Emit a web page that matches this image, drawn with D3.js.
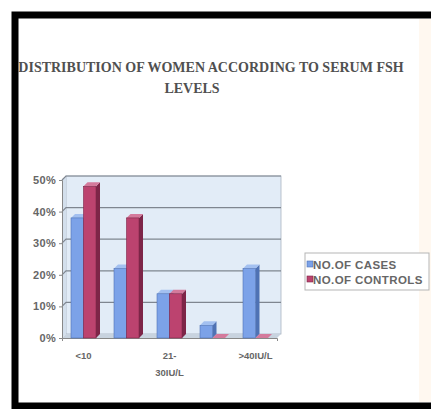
<!DOCTYPE html>
<html>
<head>
<meta charset="utf-8">
<script src="https://cdn.jsdelivr.net/npm/d3@7"></script>
<style>
  body { margin: 0; background: #fff; }
  svg { display: block; }
</style>
</head>
<body>
<svg id="chart" width="431" height="409"></svg>
<script>
// data
var categories = ["<10", "11-20IU/L", "21-30IU/L", "31-40IU/L", ">40IU/L"];
var tick_labels = [["<10"], [], ["21-", "30IU/L"], [], [">40IU/L"]];
var cases = [38, 22, 14, 4, 22];
var controls = [48, 38, 14, 0, 0];
var series_names = ["NO.OF CASES", "NO.OF CONTROLS"];
var y_ticks = [0, 10, 20, 30, 40, 50];

var colors = ["#7ca2e8", "#bc436f"];
var sides = ["#4f72b4", "#7d2548"];
var tops = ["#a3c0f0", "#d47a9c"];

var svg = d3.select("#chart");

// black frame
svg.append("rect")
    .attr("x", 15).attr("y", 15)
    .attr("width", 440).attr("height", 391)
    .attr("fill", "none")
    .attr("stroke", "#000")
    .attr("stroke-width", 7);

// faint tint on the right edge
svg.append("rect")
    .attr("x", 419).attr("y", 19).attr("width", 12).attr("height", 383)
    .attr("fill", "#fff8f0");

// title
var title = svg.append("text")
    .attr("text-anchor", "middle")
    .attr("font-family", "Liberation Serif, Times New Roman, serif")
    .attr("font-weight", "bold")
    .attr("font-size", 14)
    .attr("fill", "#505050");
title.append("tspan").attr("x", 211).attr("y", 72).text("DISTRIBUTION OF WOMEN ACCORDING TO SERUM FSH");
title.append("tspan").attr("x", 192).attr("y", 93).text("LEVELS");

var depth = 4;
var x = d3.scaleBand().domain(categories).range([62, 277]).paddingInner(0);
var y = d3.scaleLinear().domain([0, 50]).range([338, 180]);

var g = svg.append("g");

// back wall
g.append("rect")
    .attr("x", 62 + depth).attr("y", y(50) - depth)
    .attr("width", 215).attr("height", y(0) - y(50))
    .attr("fill", "#e2ecf7")
    .attr("stroke", "#aab4c0").attr("stroke-width", 0.8);

// side wall
g.append("path")
    .attr("d", "M62," + y(0) + "L" + (62 + depth) + "," + (y(0) - depth) +
        "L" + (62 + depth) + "," + (y(50) - depth) + "L62," + y(50) + "Z")
    .attr("fill", "#d3dfec");

// floor
g.append("path")
    .attr("d", "M62," + y(0) + "L277," + y(0) + "L" + (277 + depth) + "," + (y(0) - depth) +
        "L" + (62 + depth) + "," + (y(0) - depth) + "Z")
    .attr("fill", "#c8d3df");

// gridlines
y_ticks.slice(1).forEach(function(t) {
    g.append("path")
        .attr("d", "M62," + y(t) + "L" + (62 + depth) + "," + (y(t) - depth) + "L" + (277 + depth) + "," + (y(t) - depth))
        .attr("fill", "none")
        .attr("stroke", "#7f8690")
        .attr("stroke-width", 1.2);
});

// y axis
var yAxis = g.append("g")
    .attr("transform", "translate(62,0)")
    .call(d3.axisLeft(y).tickValues(y_ticks).tickSize(3).tickFormat(function(d) { return d + "%"; }));
yAxis.select(".domain").attr("stroke", "#888");
yAxis.selectAll(".tick line").attr("stroke", "#888");
yAxis.selectAll("text")
    .attr("font-family", "Liberation Sans, Arial, sans-serif")
    .attr("font-size", 11)
    .attr("font-weight", "bold")
    .attr("letter-spacing", 0.3)
    .attr("fill", "#666");

// x axis line
var xAxis = g.append("g")
    .attr("transform", "translate(0," + y(0) + ")")
    .call(d3.axisBottom(x).tickSize(3).tickFormat(""));
xAxis.select(".domain").attr("stroke", "#888");
xAxis.selectAll(".tick line").remove();

// bars
var inner = d3.scaleBand().domain([0, 1]).range([0, 25]);
var seriesData = [cases, controls];

function bar3d(parent, bx, bw, v, si) {
    var top = y(v), base = y(0);
    parent.append("path")
        .attr("d", "M" + (bx + bw) + "," + base + "L" + (bx + bw + depth) + "," + (base - depth) +
            "L" + (bx + bw + depth) + "," + (top - depth) + "L" + (bx + bw) + "," + top + "Z")
        .attr("fill", sides[si]);
    parent.append("path")
        .attr("d", "M" + bx + "," + top + "L" + (bx + depth) + "," + (top - depth) +
            "L" + (bx + bw + depth) + "," + (top - depth) + "L" + (bx + bw) + "," + top + "Z")
        .attr("fill", tops[si]);
    parent.append("rect")
        .attr("x", bx).attr("y", top)
        .attr("width", bw).attr("height", base - top)
        .attr("fill", colors[si])
        .attr("stroke", sides[si]).attr("stroke-width", 0.6);
}

categories.forEach(function(c, i) {
    var start = x(c) + (x.bandwidth() - 25) / 2;
    [0, 1].forEach(function(si) {
        bar3d(g, start + inner(si), inner.bandwidth(), seriesData[si][i], si);
    });
});

// category labels
categories.forEach(function(c, i) {
    var t = g.append("text")
        .attr("text-anchor", "middle")
        .attr("font-family", "Liberation Sans, Arial, sans-serif")
        .attr("font-size", 9.5)
        .attr("font-weight", "bold")
        .attr("fill", "#666");
    tick_labels[i].forEach(function(line, k) {
        t.append("tspan")
            .attr("x", x(c) + x.bandwidth() / 2)
            .attr("y", y(0) + 21 + k * 17)
            .text(line);
    });
});

// legend
var lg = svg.append("g").attr("transform", "translate(305,253)");
lg.append("rect")
    .attr("width", 124).attr("height", 37)
    .attr("fill", "#fff")
    .attr("stroke", "#b5b5b5").attr("stroke-width", 1);
series_names.forEach(function(n, i) {
    lg.append("rect")
        .attr("x", 2).attr("y", 8 + i * 15)
        .attr("width", 6).attr("height", 6)
        .attr("fill", colors[i])
        .attr("stroke", sides[i]).attr("stroke-width", 0.6);
    lg.append("text")
        .attr("x", 8).attr("y", 16 + i * 15)
        .attr("font-family", "Liberation Sans, Arial, sans-serif")
        .attr("font-size", 11.5)
        .attr("font-weight", "bold")
        .attr("letter-spacing", 0.4)
        .attr("fill", "#666")
        .text(n);
});
</script>
</body>
</html>
